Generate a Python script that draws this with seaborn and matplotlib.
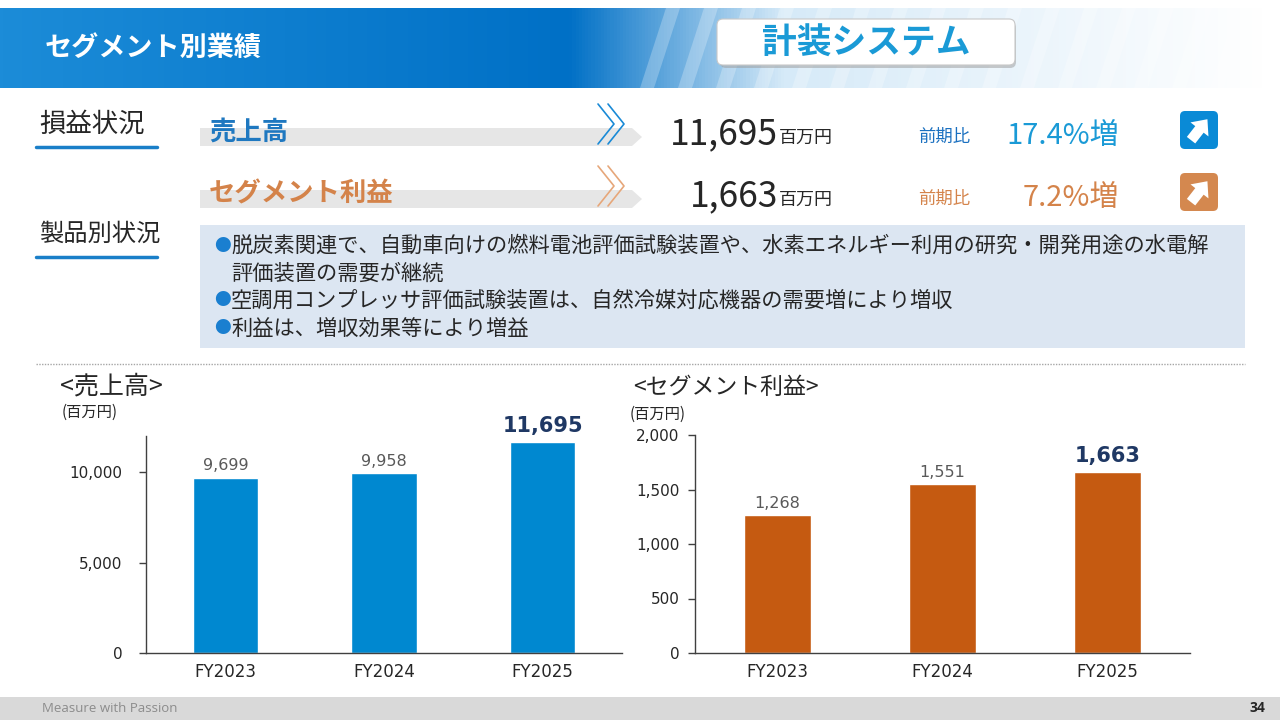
import matplotlib.pyplot as plt
import matplotlib.patches as mpatches
import numpy as np
import seaborn as sns

years = ["FY2023", "FY2024", "FY2025"]
sales = [9699, 9958, 11695]
profit = [1268, 1551, 1663]

sales_ticks = [0, 5000, 10000]
profit_ticks = [0, 500, 1000, 1500, 2000]

bullets = [
    "●脱炭素関連で、自動車向けの燃料電池評価試験装置や、水素エネルギー利用の研究・開発用途の水電解",
    "　評価装置の需要が継続",
    "●空調用コンプレッサ評価試験装置は、自然冷媒対応機器の需要増により増収",
    "●利益は、増収効果等により増益",
]

BLUE = "#0088d0"
ORANGE = "#c55a11"
NAVY = "#1f3864"
JP = ["Noto Sans CJK JP", "DejaVu Sans"]

sns.set_theme(style="white")
plt.rcParams["font.family"] = JP

W, H = 1280, 720
fig = plt.figure(figsize=(12.8, 7.2), dpi=100)

# background canvas in pixel coordinates
bg = fig.add_axes([0, 0, 1, 1])
bg.set_xlim(0, W)
bg.set_ylim(H, 0)
bg.axis("off")

# header band gradient
grad = np.zeros((1, 400, 3))
left = np.array([0x1c, 0x8c, 0xd8]) / 255
mid = np.array([0x00, 0x70, 0xc6]) / 255
light = np.array([0xd6, 0xea, 0xf8]) / 255
white = np.array([1.0, 1.0, 1.0])
for i in range(400):
    t = i / 399
    if t < 0.45:
        c = left + (mid - left) * (t / 0.45)
    elif t < 0.62:
        c = mid + (light - mid) * ((t - 0.45) / 0.17)
    else:
        c = light + (white - light) * ((t - 0.62) / 0.38)
    grad[0, i] = c
bg.imshow(grad, extent=[0, 1265, 88, 8], aspect="auto", zorder=0)
for sx in range(640, 1260, 38):
    bg.add_patch(mpatches.Polygon([(sx, 88), (sx + 14, 88), (sx + 40, 8), (sx + 26, 8)],
                                  closed=True, color="white", alpha=0.25, lw=0, zorder=1))
bg.text(45, 48, "セグメント別業績", color="white", fontsize=19.5, fontweight="bold",
        va="center", ha="left", zorder=3)
bg.add_patch(mpatches.FancyBboxPatch((720, 22), 296, 46, boxstyle="round,pad=0,rounding_size=6",
                                     fc="#9a9a9a", ec="none", zorder=2, alpha=0.5))
bg.add_patch(mpatches.FancyBboxPatch((717, 19), 298, 46, boxstyle="round,pad=0,rounding_size=6",
                                     fc="white", ec="#c8c8c8", lw=0.8, zorder=2))
bg.text(866, 43, "計装システム", color="#1a9ad6", fontsize=25, fontweight="bold",
        va="center", ha="center", zorder=3)

# section labels
for y, label, fs in [(124, "損益状況", 19), (234, "製品別状況", 17.5)]:
    bg.text(39, y, label, fontsize=fs, va="center", ha="left")
    bg.plot([36, 157], [y + 23, y + 23], color="#1a7fc8", lw=2.5)


def chevrons(x, yc, color):
    for dx in (0, 10):
        bg.plot([x + dx, x + dx + 16, x + dx], [yc - 20, yc, yc + 20], color=color, lw=1.2)


def up_icon(cx, cy, color):
    bg.add_patch(mpatches.FancyBboxPatch((cx - 19, cy - 19), 38, 38,
                                         boxstyle="round,pad=0,rounding_size=5",
                                         fc=color, ec="none", zorder=2))
    shape = np.array([(-0.14, -0.34), (0.14, -0.34), (0.14, 0.02), (0.3, 0.02),
                      (0.0, 0.36), (-0.3, 0.02), (-0.14, 0.02)])
    a = np.deg2rad(-38)
    rot = np.array([[np.cos(a), -np.sin(a)], [np.sin(a), np.cos(a)]])
    pts = shape @ rot.T * 38
    pts = np.column_stack([cx + pts[:, 0], cy - pts[:, 1]])
    bg.add_patch(mpatches.Polygon(pts, closed=True, fc="white", ec="none", zorder=3))


rows = [
    (134, "売上高", "#1f78c0", "11,695", "17.4%増", "#1a9ad6", "#1a70c0", "#1a8ad6", "#0a8ad6"),
    (196, "セグメント利益", "#d4834a", "1,663", "7.2%増", "#d4834a", "#d4834a", "#e6a77a", "#d4884f"),
]
for yc, name, ncol, val, pct, pcol, zcol, chcol, icol in rows:
    bg.add_patch(mpatches.Polygon([(200, yc - 6), (632, yc - 6), (642, yc + 3), (632, yc + 12), (200, yc + 12)],
                                  closed=True, fc="#e6e6e6", ec="none", zorder=1))
    bg.text(209, yc - 2, name, color=ncol, fontsize=19, fontweight="bold", va="center", zorder=3)
    chevrons(598, yc - 10, chcol)
    bg.text(778, yc, val, fontsize=25.5, va="center", ha="right", family=JP)
    bg.text(779, yc + 4, "百万円", fontsize=13, va="center", ha="left")
    bg.text(918, yc + 3, "前期比", color=zcol, fontsize=12.5, va="center", ha="left")
    bg.text(1119, yc + 2, pct, color=pcol, fontsize=21, va="center", ha="right")
    up_icon(1199, yc - 4, icol)

# product status box
bg.add_patch(mpatches.Rectangle((200, 225), 1045, 123, fc="#dce6f2", ec="none", zorder=1))
for i, line in enumerate(bullets):
    y = 246 + i * 27.5
    if line.startswith("●"):
        bg.text(214, y, "●", color="#1a7fd0", fontsize=12, va="center", ha="left", zorder=3)
        bg.text(231, y, line[1:], fontsize=15.3, va="center", ha="left", zorder=3)
    else:
        bg.text(231, y, line.strip("　"), fontsize=15.3, va="center", ha="left", zorder=3)

bg.plot([36, 1245], [364, 364], color="#a6a6a6", lw=1, ls=(0, (1, 1)))

# chart headers
bg.text(60, 387, "<売上高>", fontsize=18, va="center", ha="left")
bg.text(62, 412, "(百万円)", fontsize=11, va="center", ha="left")
bg.text(633, 387, "<セグメント利益>", fontsize=16.5, va="center", ha="left")
bg.text(630, 414, "(百万円)", fontsize=11, va="center", ha="left")

# footer
bg.add_patch(mpatches.Rectangle((0, 697), W, 23, fc="#d9d9d9", ec="none"))
bg.text(42, 709, "Measure with Passion", color="#8c8c8c", fontsize=9.5, va="center",
        ha="left", family=["Open Sans", "DejaVu Sans"])
bg.text(1265, 708, "34", fontsize=10, fontweight="bold", va="center", ha="right",
        family=["Open Sans", "DejaVu Sans"])


def px_axes(x0, y0, x1, y1):
    return fig.add_axes([x0 / W, 1 - y1 / H, (x1 - x0) / W, (y1 - y0) / H])


def bar_chart(ax, values, color, ymax, ticks, ypad):
    sns.barplot(x=years, y=values, color=color, width=0.41, saturation=1, ax=ax)
    ax.set_xlim(-0.5, 2.5)
    ax.set_ylim(0, ymax)
    ax.set_yticks(ticks)
    ax.set_yticklabels([f"{t:,}" for t in ticks], fontfamily="DejaVu Sans", fontsize=11, color="#262626")
    ax.set_xticks(range(3))
    ax.set_xticklabels(years, fontfamily="DejaVu Sans", fontsize=12, color="#262626")
    ax.set_xticks([-0.5, 0.5, 1.5, 2.5], minor=True)
    ax.tick_params(axis="x", which="major", length=0, pad=7)
    ax.tick_params(axis="x", which="minor", length=5, width=1, color="#404040", direction="out")
    ax.tick_params(axis="y", length=5, width=1, color="#404040", direction="out", pad=ypad, left=True)
    ax.set_xlabel("")
    ax.set_ylabel("")
    ax.set_facecolor("none")
    for s in ("top", "right"):
        ax.spines[s].set_visible(False)
    for s in ("left", "bottom"):
        ax.spines[s].set_color("#404040")
        ax.spines[s].set_linewidth(1)
    for i, (p, v) in enumerate(zip(ax.patches, values)):
        xc = p.get_x() + p.get_width() / 2
        if i == len(values) - 1:
            ax.annotate(f"{v:,}", (xc, v), xytext=(0, 4), textcoords="offset points",
                        ha="center", va="bottom", fontsize=15, fontweight="bold",
                        color=NAVY, fontfamily="DejaVu Sans")
        else:
            ax.annotate(f"{v:,}", (xc, v), xytext=(0, 3), textcoords="offset points",
                        ha="center", va="bottom", fontsize=11.5, color="#595959",
                        fontfamily="DejaVu Sans")


ax1 = px_axes(146, 436, 622, 653)
bar_chart(ax1, sales, BLUE, 12000, sales_ticks, 12)
ax2 = px_axes(695, 435, 1190, 653)
bar_chart(ax2, profit, ORANGE, 2000, profit_ticks, 6)

fig.savefig("out.png", dpi=100)
